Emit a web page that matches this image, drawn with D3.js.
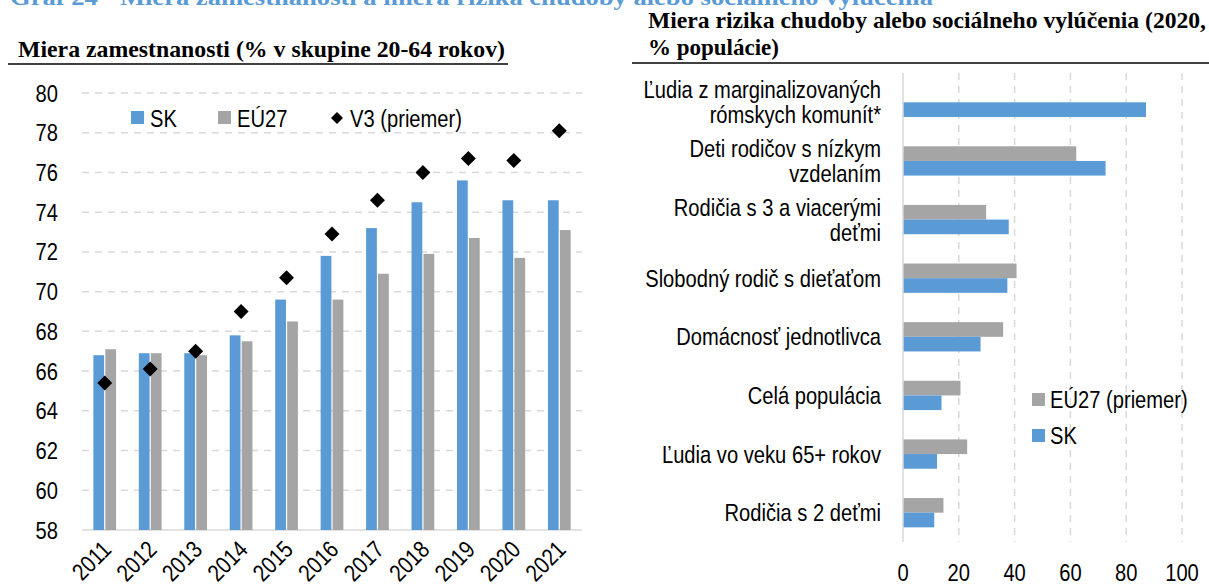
<!DOCTYPE html>
<html>
<head>
<meta charset="utf-8">
<title>Miera zamestnanosti a miera rizika chudoby</title>
<script src="https://d3js.org/d3.v7.min.js"></script>
<style>
  body { margin: 0; background: #fff; }
  svg { display: block; font-family: Arial, "Liberation Sans", sans-serif; }
  .title { font-family: "Times New Roman", "Liberation Serif", serif; font-weight: bold; font-size: 23px; }
  .lab { font-size: 24px; fill: #000; }
</style>
</head>
<body>
<svg width="1209" height="588"></svg>
<script>
// ---- data: employment rate (left) ----
var years = ["2011", "2012", "2013", "2014", "2015", "2016", "2017", "2018", "2019", "2020", "2021"];
var skEmp = [66.8, 66.9, 66.9, 67.8, 69.6, 71.8, 73.2, 74.5, 75.6, 74.6, 74.6];
var euEmp = [67.1, 66.9, 66.8, 67.5, 68.5, 69.6, 70.9, 71.9, 72.7, 71.7, 73.1];
var v3Emp = [65.4, 66.1, 67.0, 69.0, 70.7, 72.9, 74.6, 76.0, 76.7, 76.6, 78.1];
var empTicks = [58, 60, 62, 64, 66, 68, 70, 72, 74, 76, 78, 80];

// ---- data: poverty risk (right) ----
var groups = [
  ["Ľudia z marginalizovaných", "rómskych komunít*"],
  ["Deti rodičov s nízkym", "vzdelaním"],
  ["Rodičia s 3 a viacerými", "deťmi"],
  ["Slobodný rodič s dieťaťom"],
  ["Domácnosť jednotlivca"],
  ["Celá populácia"],
  ["Ľudia vo veku 65+ rokov"],
  ["Rodičia s 2 deťmi"]
];
var euPov = [null, 62.1, 29.8, 40.7, 35.9, 20.6, 23.0, 14.5];
var skPov = [87.1, 72.6, 37.9, 37.4, 27.8, 13.8, 12.2, 11.2];
var povTicks = [0, 20, 40, 60, 80, 100];

var blue = "#5b9bd5", grey = "#a5a5a5", gridC = "#d9d9d9";
var SQ = 0.84; // the source renders its Arial a bit condensed

var svg = d3.select("svg");

// place a label with horizontal squeeze
function label(parent, x, y, txt, anchor, rot) {
  return parent.append("text")
    .attr("class", "lab")
    .attr("text-anchor", anchor || "start")
    .attr("transform", "translate(" + x + "," + y + ")" + (rot ? " rotate(" + rot + ")" : "") + " scale(" + SQ + ",1)")
    .text(txt);
}

// heading of the page, cut off at the top edge (as in the source)
svg.append("text")
  .attr("class", "title")
  .attr("x", 10).attr("y", 5)
  .attr("textLength", 923).attr("lengthAdjust", "spacingAndGlyphs")
  .style("fill", "#5b9bd5")
  .text("Graf 24 - Miera zamestnanosti a miera rizika chudoby alebo sociálneho vylúčenia");

// panel titles
svg.append("text").attr("class", "title").attr("x", 18).attr("y", 57)
  .attr("textLength", 487).attr("lengthAdjust", "spacingAndGlyphs")
  .text("Miera zamestnanosti (% v skupine 20-64 rokov)");
svg.append("line").attr("x1", 8).attr("x2", 508).attr("y1", 64).attr("y2", 64)
  .attr("stroke", "#000").attr("stroke-width", 1.5);

svg.append("text").attr("class", "title").attr("x", 648).attr("y", 28)
  .attr("textLength", 558).attr("lengthAdjust", "spacingAndGlyphs")
  .text("Miera rizika chudoby alebo sociálneho vylúčenia (2020,");
svg.append("text").attr("class", "title").attr("x", 648).attr("y", 55)
  .text("% populácie)");
svg.append("line").attr("x1", 632).attr("x2", 1209).attr("y1", 63).attr("y2", 63)
  .attr("stroke", "#000").attr("stroke-width", 1.5);

// ================= left chart =================
var x = d3.scaleBand().domain(years).range([82, 582]);
var y = d3.scaleLinear().domain([58, 80]).range([530, 93]);
var inner = d3.scaleBand().domain(["sk", "eu"]).range([x.bandwidth() * 0.25, x.bandwidth() * 0.75]).paddingInner(0.1);

var left = svg.append("g");

left.selectAll(".grid").data(empTicks.slice(1)).enter().append("line")
  .attr("x1", 82).attr("x2", 582)
  .attr("y1", d => y(d)).attr("y2", d => y(d))
  .attr("stroke", gridC).attr("stroke-width", 1.5).attr("stroke-dasharray", "7,6");

left.append("line").attr("x1", 82).attr("x2", 582).attr("y1", y(58)).attr("y2", y(58))
  .attr("stroke", gridC).attr("stroke-width", 1.5);

empTicks.forEach(function (t) {
  label(left, 58, y(t) + 8.5, t, "end");
});

var yr = left.selectAll(".yr").data(years).enter().append("g")
  .attr("transform", d => "translate(" + x(d) + ",0)");

yr.append("rect")
  .attr("x", inner("sk")).attr("width", inner.bandwidth())
  .attr("y", (d, i) => y(skEmp[i])).attr("height", (d, i) => y(58) - y(skEmp[i]))
  .attr("fill", blue);
yr.append("rect")
  .attr("x", inner("eu")).attr("width", inner.bandwidth())
  .attr("y", (d, i) => y(euEmp[i])).attr("height", (d, i) => y(58) - y(euEmp[i]))
  .attr("fill", grey);

// V3 average as black diamonds
left.selectAll(".v3").data(v3Emp).enter().append("path")
  .attr("d", d3.symbol().type(d3.symbolSquare).size(112))
  .attr("transform", (d, i) => "translate(" + (x(years[i]) + x.bandwidth() / 2) + "," + y(d) + ") rotate(45)")
  .attr("fill", "#000");

years.forEach(function (d) {
  label(left, x(d) + x.bandwidth() / 2 + 8, 551, d, "end", -45);
});

// legend left
var lg = left.append("g");
lg.append("rect").attr("x", 131).attr("y", 111).attr("width", 13).attr("height", 13).attr("fill", blue);
label(lg, 150, 127, "SK");
lg.append("rect").attr("x", 218).attr("y", 111).attr("width", 13).attr("height", 13).attr("fill", grey);
label(lg, 237, 127, "EÚ27");
lg.append("path").attr("d", d3.symbol().type(d3.symbolSquare).size(72))
  .attr("transform", "translate(337,118) rotate(45)").attr("fill", "#000");
label(lg, 350, 127, "V3 (priemer)");

// ================= right chart =================
var px = d3.scaleLinear().domain([0, 100]).range([903, 1182]);
var py = d3.scaleBand().domain(d3.range(groups.length)).range([73, 542]);
var pin = d3.scaleBand().domain(["eu", "sk"]).range([py.bandwidth() * 0.25, py.bandwidth() * 0.75]);

var right = svg.append("g");

right.selectAll(".vgrid").data(povTicks.slice(1)).enter().append("line")
  .attr("x1", d => px(d)).attr("x2", d => px(d)).attr("y1", 73).attr("y2", 542)
  .attr("stroke", gridC).attr("stroke-width", 1.5).attr("stroke-dasharray", "7,6");

povTicks.forEach(function (t) {
  label(right, px(t), 581, t, "middle");
});

var row = right.selectAll(".row").data(groups).enter().append("g")
  .attr("transform", (d, i) => "translate(0," + py(i) + ")");

row.each(function (d, i) {
  var g = d3.select(this);
  if (euPov[i] != null) {
    g.append("rect")
      .attr("x", px(0)).attr("y", pin("eu")).attr("height", pin.bandwidth())
      .attr("width", px(euPov[i]) - px(0))
      .attr("fill", grey);
  }
  g.append("rect")
    .attr("x", px(0)).attr("y", pin("sk")).attr("height", pin.bandwidth())
    .attr("width", px(skPov[i]) - px(0))
    .attr("fill", blue);

  var n = d.length;
  d.forEach(function (line, k) {
    label(g, 881, py.bandwidth() / 2 + (k - (n - 1) / 2) * 25 + 8.5, line, "end");
  });
});

right.append("line").attr("x1", px(0)).attr("x2", px(0)).attr("y1", 73).attr("y2", 542)
  .attr("stroke", gridC).attr("stroke-width", 1.5);

// legend right
var rg = right.append("g");
rg.append("rect").attr("x", 1032).attr("y", 393).attr("width", 13).attr("height", 13).attr("fill", grey);
label(rg, 1050, 408, "EÚ27 (priemer)");
rg.append("rect").attr("x", 1032).attr("y", 429).attr("width", 13).attr("height", 13).attr("fill", blue);
label(rg, 1050, 444, "SK");
</script>
</body>
</html>
